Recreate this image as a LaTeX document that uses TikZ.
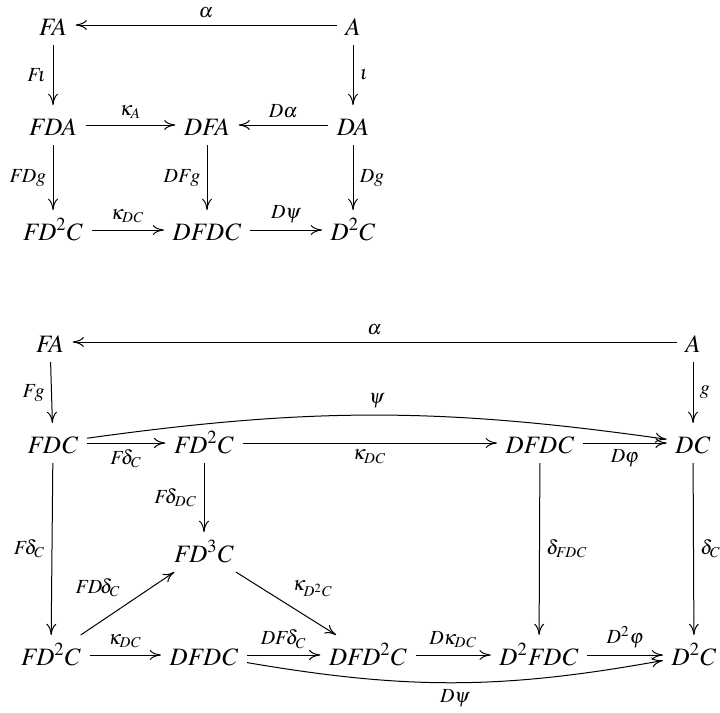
\documentclass[tikz,border=0pt]{standalone}
\usepackage{amsmath}
\usepackage{mathptmx}
\usetikzlibrary{arrows.meta}

\begin{document}
\begin{tikzpicture}[x=0.4pt,y=-0.4pt,
  obj/.style={anchor=base,text height=8.5pt,text depth=0.5pt,inner sep=3.3pt},
  lbl/.style={font=\footnotesize,inner sep=2.5pt},
  cd/.style={-{To[length=4.5pt,width=4pt]}}]
\useasboundingbox (0,0) rectangle (720,713);

% first square
\node[obj] (FA) at (53,35) {$\mathit{FA}$};
\node[obj] (A) at (353,35) {$A$};
\node[obj] (FDA) at (53,135) {$\mathit{FDA}$};
\node[obj] (DFA) at (207,135) {$\mathit{DFA}$};
\node[obj] (DA) at (353,135) {$\mathit{DA}$};
\node[obj] (FDsqC) at (53,240) {$\mathit{FD}^2C$};
\node[obj] (DFDC) at (207,240) {$\mathit{DFDC}$};
\node[obj] (DsqC) at (353,240) {$D^2C$};

\draw[cd] (A) -- node[lbl,above]{$\alpha$} (FA);
\draw[cd] (FA) -- node[lbl,left]{$\mathit{F}\!\iota$} (FDA);
\draw[cd] (A) -- node[lbl,right]{$\iota$} (DA);
\draw[cd] (FDA) -- node[lbl,above]{$\kappa_A$} (DFA);
\draw[cd] (DA) -- node[lbl,above]{$D\alpha$} (DFA);
\draw[cd] (FDA) -- node[lbl,left]{$\mathit{FDg}$} (FDsqC);
\draw[cd] (DFA) -- node[lbl,left]{$\mathit{DFg}$} (DFDC);
\draw[cd] (DA) -- node[lbl,right]{$\mathit{Dg}$} (DsqC);
\draw[cd] (FDsqC) -- node[lbl,above]{$\kappa_{\mathit{DC}}$} (DFDC);
\draw[cd] (DFDC) -- node[lbl,above]{$D\psi$} (DsqC);

% second diagram
\node[obj] (bFA) at (50,352) {$\mathit{FA}$};
\node[obj] (bA) at (693,352) {$A$};
\node[obj] (bFDC) at (53,453) {$\mathit{FDC}$};
\node[obj] (bFDsqC) at (204,453) {$\mathit{FD}^2C$};
\node[obj] (bDFDC) at (540,453) {$\mathit{DFDC}$};
\node[obj] (bDC) at (693,453) {$\mathit{DC}$};
\node[obj] (bFDcuC) at (204,562) {$\mathit{FD}^3C$};
\node[obj] (lFDsqC) at (51,665) {$\mathit{FD}^2C$};
\node[obj] (lDFDC) at (204,665) {$\mathit{DFDC}$};
\node[obj] (lDFDsqC) at (368,665) {$\mathit{DFD}^2C$};
\node[obj] (lDsqFDC) at (539,665) {$D^2\mathit{FDC}$};
\node[obj] (lDsqC) at (694,665) {$D^2C$};

\draw[cd] (bA) -- node[lbl,above]{$\alpha$} (bFA);
\draw[cd] (bFA) -- node[lbl,left]{$\mathit{Fg}$} (bFDC);
\draw[cd] (bA) -- node[lbl,right]{$g$} (bDC);
\draw[cd] (bFDC) to[bend left=8] node[lbl,above]{$\psi$} (bDC);
\draw[cd] (bFDC) -- node[lbl,below]{$\mathit{F}\!\delta_C$} (bFDsqC);
\draw[cd] (bFDsqC) -- node[lbl,below]{$\kappa_{\mathit{DC}}$} (bDFDC);
\draw[cd] (bDFDC) -- node[lbl,below]{$D\varphi$} (bDC);
\draw[cd] (bFDsqC) -- node[lbl,left]{$\mathit{F}\!\delta_{\mathit{DC}}$} (bFDcuC);
\draw[cd] (bFDC) -- node[lbl,left]{$\mathit{F}\!\delta_C$} (lFDsqC);
\draw[cd] (bDFDC) -- node[lbl,right]{$\delta_{\mathit{FDC}}$} (lDsqFDC);
\draw[cd] (bDC) -- node[lbl,right]{$\delta_C$} (lDsqC);
\draw[cd] (lFDsqC) -- node[lbl,above left]{$\mathit{FD}\!\delta_C$} (bFDcuC);
\draw[cd] (bFDcuC) -- node[lbl,above right]{$\kappa_{D^2C}$} (lDFDsqC);
\draw[cd] (lFDsqC) -- node[lbl,above]{$\kappa_{\mathit{DC}}$} (lDFDC);
\draw[cd] (lDFDC) -- node[lbl,above]{$\mathit{DF}\!\delta_C$} (lDFDsqC);
\draw[cd] (lDFDsqC) -- node[lbl,above]{$D\kappa_{\mathit{DC}}$} (lDsqFDC);
\draw[cd] (lDsqFDC) -- node[lbl,above]{$D^2\varphi$} (lDsqC);
\draw[cd] (lDFDC) to[bend right=10] node[lbl,below]{$D\psi$} (lDsqC);
\end{tikzpicture}
\end{document}
